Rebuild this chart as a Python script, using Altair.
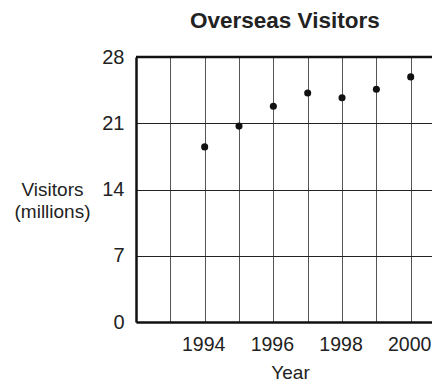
import altair as alt
import pandas as pd

years = [1994, 1995, 1996, 1997, 1998, 1999, 2000]
visitors = [18.5, 20.7, 22.8, 24.2, 23.7, 24.6, 25.9]
grid_years = [1993, 1994, 1995, 1996, 1997, 1998, 1999, 2000]
y_ticks = [0, 7, 14, 21, 28]

df = pd.DataFrame({"Year": years, "Visitors": visitors})

FONT = "Liberation Sans"

x_scale = alt.Scale(domain=[1992, 2000.62], nice=False, zero=False)
y_scale = alt.Scale(domain=[0, 28], nice=False)

points = alt.Chart(df).mark_circle(size=50, color="#111", opacity=1).encode(
    x=alt.X(
        "Year:Q",
        scale=x_scale,
        axis=alt.Axis(
            values=grid_years,
            labelExpr="datum.value % 2 == 0 ? format(datum.value, 'd') : ''",
            ticks=False,
            grid=True,
            gridColor="#555",
            gridWidth=1,
            gridOpacity=1,
            domainColor="#111",
            domainWidth=2.5,
            labelFont=FONT,
            labelFontSize=19.5,
            labelColor="#222",
            labelPadding=13,
            labelOffset=-1.5,
            labelFlush=False,
            labelOverlap=False,
            title="Year",
            titleFont=FONT,
            titleFontSize=19,
            titleFontWeight="normal",
            titleColor="#222",
            titlePadding=10,
            titleX=154,
        ),
    ),
    y=alt.Y(
        "Visitors:Q",
        scale=y_scale,
        axis=alt.Axis(
            values=y_ticks,
            ticks=False,
            grid=True,
            gridColor="#222",
            gridWidth=1,
            gridOpacity=1,
            domainColor="#111",
            domainWidth=2.5,
            labelFont=FONT,
            labelFontSize=20,
            labelColor="#222",
            labelPadding=12,
            labelFlush=False,
            title=["Visitors", "(millions)"],
            titleFont=FONT,
            titleFontSize=19,
            titleFontWeight="normal",
            titleColor="#222",
            titleAngle=0,
            titleAlign="center",
            titleBaseline="middle",
            titleX=-84,
            titleY=132,
            titleLineHeight=22,
        ),
    ),
)

top_border = alt.Chart(pd.DataFrame({"top": [28]})).mark_rule(
    color="#111", strokeWidth=2.5
).encode(y=alt.Y("top:Q", scale=y_scale))

chart = (
    alt.layer(points, top_border)
    .properties(
        width=296,
        height=265,
        title=alt.TitleParams(
            "Overseas Visitors",
            font=FONT,
            fontSize=22.5,
            fontWeight="bold",
            color="#222",
            anchor="start",
            frame="group",
            baseline="alphabetic",
            offset=-3,
            dx=54,
        ),
        autosize=alt.AutoSizeParams(type="none"),
        padding={"left": 128, "top": 49, "right": 0, "bottom": 62},
    )
    .configure_view(stroke=None)
    .configure(background="white")
)

chart.save("out.html", embed_options={"renderer": "svg", "actions": False})
